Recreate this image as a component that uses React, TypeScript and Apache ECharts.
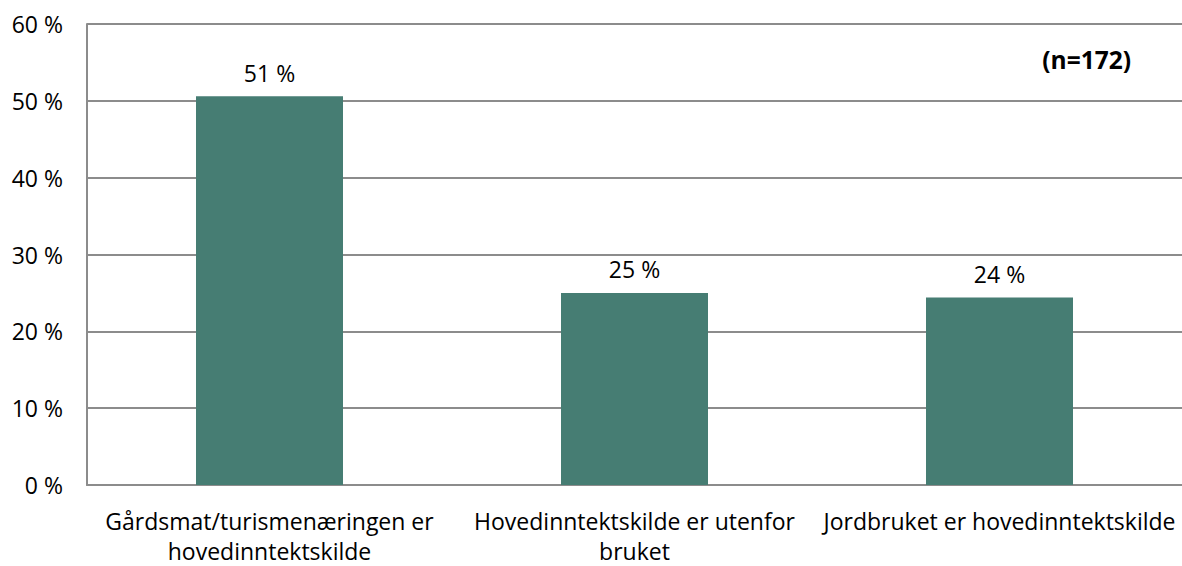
import React, { useEffect, useRef } from "react";
import * as echarts from "echarts";

const categories = [
  "Gårdsmat/turismenæringen er\nhovedinntektskilde",
  "Hovedinntektskilde er utenfor\nbruket",
  "Jordbruket er hovedinntektskilde",
];
const values = [50.6, 25.0, 24.4];
const yTicks = [0, 10, 20, 30, 40, 50, 60];
const noteText = "(n=172)";

const FONT = "'Open Sans', 'Liberation Sans', sans-serif";

export default function App() {
  const ref = useRef<HTMLDivElement>(null);
  useEffect(() => {
    if (!ref.current) return;
    const chart = echarts.init(ref.current, null, { renderer: "svg" });
    chart.setOption({
      animation: false,
      grid: { left: 87, top: 24, width: 1098, height: 462, containLabel: false },
      xAxis: {
        type: "category",
        data: categories,
        axisLine: { show: true, lineStyle: { color: "#8c8c8c", width: 2 } },
        axisTick: { show: false },
        axisLabel: {
          color: "#000",
          fontFamily: FONT,
          fontSize: 23,
          lineHeight: 30,
          margin: 21,
          interval: 0,
        },
      },
      yAxis: {
        type: "value",
        min: yTicks[0],
        max: yTicks[yTicks.length - 1],
        interval: 10,
        axisLine: { show: true, lineStyle: { color: "#8c8c8c", width: 2 } },
        axisTick: { show: false },
        splitLine: { show: true, lineStyle: { color: "#8c8c8c", width: 2 } },
        axisLabel: {
          color: "#000",
          fontFamily: FONT,
          fontSize: 23,
          margin: 24,
          formatter: (v: number) => `${v} %`,
        },
      },
      series: [
        {
          type: "bar",
          data: values,
          barWidth: 147,
          itemStyle: { color: "#467d73" },
          label: {
            show: true,
            position: "top",
            distance: 12,
            color: "#000",
            fontFamily: FONT,
            fontSize: 23,
            formatter: (p: any) => `${Math.round(p.value)} %`,
          },
        },
      ],
      graphic: [
        {
          type: "text",
          right: 51,
          top: 47,
          style: {
            text: noteText,
            fontFamily: FONT,
            fontSize: 24.5,
            fontWeight: "bold",
            fill: "#000",
          },
        },
      ],
    });
    return () => chart.dispose();
  }, []);
  return <div ref={ref} style={{ width: 1182, height: 566, position: "absolute", left: 0, top: 0 }} />;
}
